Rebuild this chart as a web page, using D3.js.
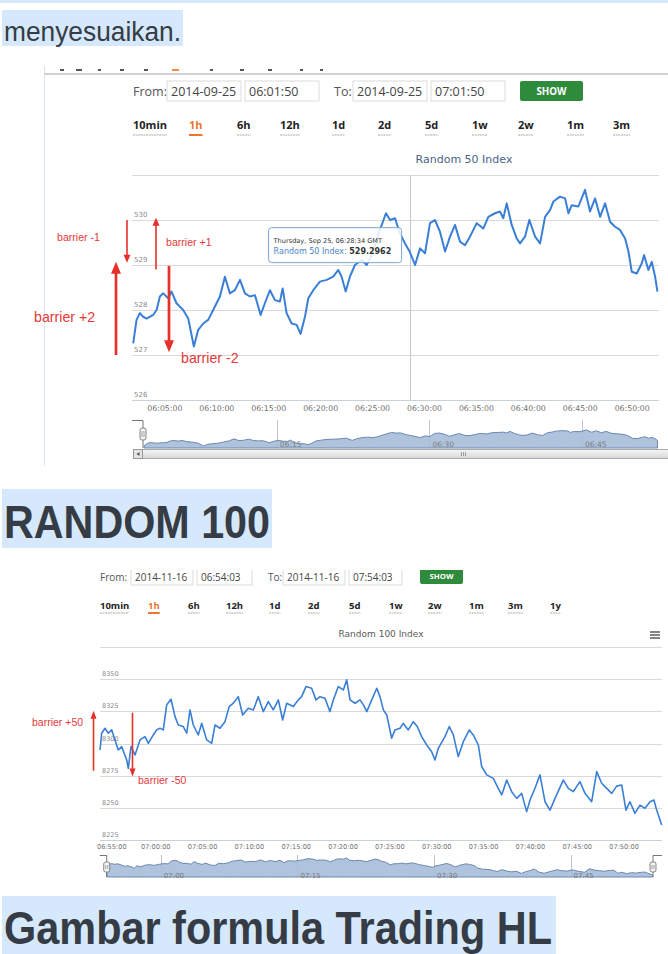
<!DOCTYPE html>
<html>
<head>
<meta charset="utf-8">
<script src="https://cdn.jsdelivr.net/npm/d3@7"></script>
<style>
  body { margin: 0; background: #fff; }
  svg { display: block; }
</style>
</head>
<body>
<div id="page"></div>
<script>
// Random 50 Index, 2014-09-25 (minutes after 06:00)
const r50Minutes = [1.95, 2.27, 2.59, 2.91, 3.24, 3.87, 4.20, 4.52, 4.84, 5.32, 5.64, 6.12, 6.76, 7.25, 7.79, 8.21, 8.69, 9.17, 9.65, 10.30,
  10.78, 11.26, 11.74, 12.23, 12.71, 13.19, 13.67, 14.22, 14.63, 15.12, 15.60, 16.08, 16.34, 16.72, 17.21, 17.69, 18.07, 18.49, 18.81, 19.29,
  19.93, 20.58, 21.21, 21.70, 22.02, 22.41, 22.82, 23.30, 23.95, 24.43, 24.91, 25.71, 26.29, 26.68, 27.16, 27.64, 28.12, 28.57, 29.09, 29.57,
  30.05, 30.53, 31.01, 31.49, 31.98, 32.46, 32.94, 33.42, 33.90, 34.38, 35.03, 35.66, 36.15, 36.79, 37.27, 37.59, 37.92, 38.40, 38.88, 39.20,
  39.68, 40.10, 40.65, 41.13, 41.61, 42.09, 42.41, 43.05, 43.54, 43.86, 44.18, 44.82, 45.46, 45.94, 46.43, 46.91, 47.39, 47.87, 48.35, 48.83,
  49.32, 49.64, 49.96, 50.44, 50.93, 51.15, 51.56, 51.89, 52.21, 52.43];
const r50Values = [527.26, 527.78, 527.93, 527.85, 527.81, 527.89, 528.00, 528.30, 528.37, 528.26, 528.41, 528.15, 528.00, 527.81, 527.19, 527.56, 527.70, 527.78, 528.00, 528.30,
  528.74, 528.37, 528.44, 528.67, 528.37, 528.30, 528.33, 527.89, 528.15, 528.44, 528.22, 528.19, 528.48, 527.93, 527.70, 527.67, 527.47, 527.85, 528.26, 528.44,
  528.63, 528.67, 528.74, 528.89, 528.74, 528.41, 528.74, 529.00, 529.11, 529.00, 529.22, 529.78, 530.15, 530.00, 530.04, 529.70, 529.48, 529.30, 529.00, 529.37,
  529.26, 529.93, 530.00, 529.74, 529.30, 529.63, 529.89, 529.52, 529.44, 529.63, 529.93, 529.81, 530.07, 530.15, 530.19, 530.04, 530.37, 529.89, 529.59, 529.48,
  529.63, 530.00, 529.63, 529.48, 530.07, 530.22, 530.41, 530.52, 530.48, 530.15, 530.33, 530.30, 530.67, 530.19, 530.48, 530.07, 530.37, 529.96, 529.85, 529.78,
  529.59, 529.30, 528.85, 528.81, 529.04, 529.22, 528.89, 529.07, 528.74, 528.41];
const r50YTicks = [526, 527, 528, 529, 530, 531];
const r50XTicks = ["06:05:00", "06:10:00", "06:15:00", "06:20:00", "06:25:00", "06:30:00", "06:35:00", "06:40:00", "06:45:00", "06:50:00"];
const r50NavTicks = ["06:15", "06:30", "06:45"];
const r50Ranges = ["10min", "1h", "6h", "12h", "1d", "2d", "5d", "1w", "2w", "1m", "3m"];
const r50Form = ["2014-09-25", "06:01:50", "2014-09-25", "07:01:50"];
const r50Tip = { time: "06:28:34", value: 529.2962, day: "Thursday, Sep 25" };
// barrier arrows: [from value, to value, label]
const r50Barriers = [[530.0, 529.05, "barrier -1"], [528.9, 530.05, "barrier +1"], [527.0, 529.07, "barrier +2"], [528.98, 527.06, "barrier -2"]];

// Random 100 Index, 2014-11-16 (minutes after 06:54)
const r100Minutes = [0.05, 0.23, 0.58, 0.94, 1.30, 1.65, 2.00, 2.37, 2.90, 3.07, 3.36, 3.79, 4.32, 4.85, 5.21, 5.74, 6.10, 6.46, 6.81, 7.17,
  7.63, 8.06, 8.41, 8.94, 9.31, 9.66, 10.01, 10.54, 10.91, 11.44, 11.97, 12.33, 12.86, 13.39, 13.85, 14.28, 14.81, 15.28, 15.88, 16.42,
  16.95, 17.48, 18.02, 18.55, 19.09, 19.55, 19.98, 20.69, 21.22, 21.58, 22.04, 22.65, 23.11, 23.54, 24.07, 24.60, 24.96, 25.49, 26.03, 26.39,
  26.74, 27.28, 27.81, 28.17, 28.53, 29.06, 29.60, 29.94, 30.30, 30.66, 31.19, 31.54, 32.08, 32.43, 32.96, 33.50, 33.92, 34.39, 34.93, 35.46,
  35.81, 36.17, 36.88, 37.34, 37.77, 38.30, 38.84, 39.48, 39.90, 40.44, 40.80, 41.33, 42.04, 42.57, 42.94, 43.47, 44.00, 44.54, 45.07, 45.60,
  45.96, 46.49, 47.02, 47.56, 48.09, 48.63, 49.51, 50.05, 50.58, 51.29, 51.83, 52.54, 53.08, 53.61, 54.15, 54.68, 55.21, 55.75, 56.20, 56.63,
  57.16, 57.70, 58.23, 58.77, 59.19, 59.48, 60.02];
const r100Values = [8295.1, 8308.1, 8312.0, 8308.1, 8310.7, 8302.9, 8295.1, 8297.7, 8287.4, 8280.9, 8297.7, 8291.3, 8302.9, 8305.5, 8300.3, 8306.8, 8310.7, 8312.0, 8310.7, 8330.1,
  8334.5, 8321.0, 8314.5, 8313.3, 8308.1, 8326.2, 8314.5, 8306.8, 8315.8, 8302.9, 8300.3, 8314.5, 8312.0, 8317.1, 8328.8, 8331.4, 8336.5, 8322.3, 8327.5, 8326.2,
  8336.5, 8324.9, 8332.7, 8326.2, 8334.0, 8318.4, 8331.4, 8328.8, 8334.0, 8336.5, 8344.3, 8343.0, 8334.0, 8336.5, 8335.2, 8324.9, 8333.9, 8344.3, 8341.7, 8349.5,
  8334.0, 8331.4, 8334.0, 8330.1, 8324.9, 8334.0, 8343.0, 8336.5, 8326.2, 8322.3, 8304.2, 8310.7, 8312.0, 8315.8, 8310.7, 8317.1, 8313.3, 8305.5, 8299.0, 8293.8,
  8287.4, 8296.4, 8305.5, 8313.3, 8306.8, 8290.0, 8301.6, 8310.7, 8306.8, 8299.0, 8282.3, 8275.8, 8273.1, 8265.4, 8260.3, 8271.8, 8262.8, 8257.6, 8261.5, 8247.3,
  8256.3, 8265.4, 8275.8, 8255.0, 8248.5, 8257.6, 8271.8, 8265.4, 8262.8, 8270.6, 8261.5, 8255.0, 8278.3, 8269.3, 8265.4, 8261.5, 8267.1, 8268.0, 8248.5, 8255.0,
  8246.0, 8252.4, 8249.9, 8255.0, 8256.3, 8248.5, 8236.9];
const r100YTicks = [8225, 8250, 8275, 8300, 8325, 8350, 8375];
const r100XTicks = ["06:55:00", "07:00:00", "07:05:00", "07:10:00", "07:15:00", "07:20:00", "07:25:00", "07:30:00", "07:35:00", "07:40:00", "07:45:00", "07:50:00"];
const r100NavTicks = ["07:00", "07:15", "07:30", "07:45"];
const r100Ranges = ["10min", "1h", "6h", "12h", "1d", "2d", "5d", "1w", "2w", "1m", "3m", "1y"];
const r100Form = ["2014-11-16", "06:54:03", "2014-11-16", "07:54:03"];
const r100Barriers = [[8279, 8325.5, "barrier +50"], [8324, 8274.5, "barrier -50"]];

const W = 668, H = 954;
const RED = "#e8302a", BLUE = "#3a7fd6";
const chartFont = "'DejaVu Sans', sans-serif";
const siteFont = "'Open Sans', sans-serif";
const pageFont = "'Liberation Sans', Arial, sans-serif";

const parseT = d3.timeParse("%H:%M:%S");
const at = (base, m) => new Date(parseT(base).getTime() + m * 60000);

const svg = d3.select("#page").append("svg").attr("width", W).attr("height", H);
const defs = svg.append("defs");

// ---- page text with highlight ----
function pageText(txt, x, y, size, bold, len, hl) {
  svg.append("rect").attr("x", hl[0]).attr("y", hl[1]).attr("width", hl[2]).attr("height", hl[3]).attr("fill", "#d6e8fb");
  svg.append("text").attr("x", x).attr("y", y).text(txt)
    .attr("font-family", pageFont).attr("font-size", size)
    .attr("font-weight", bold ? "bold" : "normal").attr("fill", "#353c45")
    .attr("textLength", len).attr("lengthAdjust", "spacingAndGlyphs");
}
svg.append("rect").attr("x", 0).attr("y", 0).attr("width", W).attr("height", 3).attr("fill", "#d6e8fb");
pageText("menyesuaikan.", 4, 41, 27, false, 177, [2, 10, 181, 36]);
pageText("RANDOM 100", 4, 538, 46, true, 266, [2, 489, 270, 59]);
pageText("Gambar formula Trading HL", 4, 944, 46, true, 548, [2, 896, 554, 58]);

// ---- helpers ----
function arrow(g, x, y1, y2, w, hw, hl) {
  const dir = Math.sign(y2 - y1);
  g.append("line").attr("x1", x).attr("x2", x).attr("y1", y1).attr("y2", y2 - dir * hl * 0.8)
    .attr("stroke", RED).attr("stroke-width", w);
  g.append("path").attr("d", `M${x - hw},${y2 - dir * hl}L${x + hw},${y2 - dir * hl}L${x},${y2}Z`).attr("fill", RED);
}

function header(g, o) {
  const f = o.font;
  g.append("text").attr("x", o.fromX).attr("y", o.formY).text("From:")
    .attr("font-family", siteFont).attr("font-size", f).attr("fill", "#555");
  o.boxes.forEach((b, i) => {
    g.append("rect").attr("x", b[0]).attr("y", o.boxY).attr("width", b[1]).attr("height", o.boxH)
      .attr("fill", "#fff").attr("stroke", "#dcdcdc");
    g.append("text").attr("x", b[0] + 4).attr("y", o.formY).text(o.form[i])
      .attr("font-family", siteFont).attr("font-size", f).attr("fill", "#444");
  });
  g.append("text").attr("x", o.toX).attr("y", o.formY).text("To:")
    .attr("font-family", siteFont).attr("font-size", f).attr("fill", "#555");
  g.append("rect").attr("x", o.show[0]).attr("y", o.show[1]).attr("width", o.show[2]).attr("height", o.show[3])
    .attr("rx", 2).attr("fill", "#2e8b3b");
  g.append("text").attr("x", o.show[0] + o.show[2] / 2).attr("y", o.showY).attr("text-anchor", "middle")
    .text("SHOW").attr("font-family", siteFont).attr("font-weight", "bold").attr("font-size", f * 0.78).attr("fill", "#fff");

  o.ranges.forEach((r, i) => {
    const t = g.append("text").attr("x", o.rangeX[i]).attr("y", o.rangeY).text(r)
      .attr("font-family", siteFont).attr("font-weight", "bold").attr("font-size", o.rangeFont)
      .attr("fill", r === "1h" ? "#e9772c" : "#222");
    const wdt = t.node().getComputedTextLength();
    g.append("line").attr("x1", o.rangeX[i]).attr("x2", o.rangeX[i] + wdt)
      .attr("y1", o.rangeY + o.ulGap).attr("y2", o.rangeY + o.ulGap)
      .attr("stroke", r === "1h" ? "#e9772c" : "#c8c8c8")
      .attr("stroke-width", r === "1h" ? 2 : 1.3)
      .attr("stroke-dasharray", r === "1h" ? null : "2,0.6");
  });
}

function chart(g, o) {
  const x = d3.scaleTime().domain(o.xDomain).range(o.xRange);
  const y = d3.scaleLinear().domain(o.yDomain).range(o.yRange);
  const pts = o.minutes.map((m, i) => ({ t: at(o.base, m), v: o.values[i] }));

  g.append("text").attr("x", o.titleX).attr("y", o.titleY).attr("text-anchor", "middle").text(o.title)
    .attr("font-family", chartFont).attr("font-size", o.titleSize).attr("fill", o.titleColor);

  // grid
  g.selectAll(".grid").data(o.yTicks).join("line")
    .attr("x1", o.xRange[0]).attr("x2", o.xRange[1])
    .attr("y1", d => Math.round(y(d)) + 0.5).attr("y2", d => Math.round(y(d)) + 0.5)
    .attr("stroke", (d, i) => i === 0 ? "#c8d0d8" : "#d9d9d9").attr("stroke-width", 1);
  g.selectAll(".ylab").data(o.yTicks.slice(0, -1)).join("text")
    .attr("x", o.xRange[0] + 2).attr("y", d => y(d) - 3).text(d => d)
    .attr("font-family", chartFont).attr("font-size", o.yFont).attr("fill", "#8a8a8a");

  // x axis labels
  const xl = g.selectAll(".xlab").data(o.xTicks).join("text")
    .attr("y", o.xLabY).text(d => d)
    .attr("font-family", chartFont).attr("font-size", o.xFont).attr("fill", "#707070")
    .attr("text-anchor", "middle")
    .attr("x", d => x(parseT(d)));
  xl.each(function () {
    const n = this, b = n.getBBox();
    if (b.x < o.xRange[0] - 3) d3.select(n).attr("x", +d3.select(n).attr("x") + (o.xRange[0] - 3 - b.x));
  });

  if (o.crosshair) {
    const cx = Math.round(x(parseT(o.crosshair))) + 0.5;
    g.append("line").attr("x1", cx).attr("x2", cx).attr("y1", o.yRange[1]).attr("y2", o.yRange[0])
      .attr("stroke", "#c8c8c8");
  }

  g.append("path").datum(pts)
    .attr("d", d3.line().x(d => x(d.t)).y(d => y(d.v)))
    .attr("fill", "none").attr("stroke", BLUE).attr("stroke-width", o.lineW).attr("stroke-linejoin", "round");

  // navigator
  const nx = d3.scaleTime().domain(o.xDomain).range(o.navX);
  const ny = d3.scaleLinear().domain(d3.extent(o.values)).range(o.navY);
  g.selectAll(".navgrid").data(o.navTicks).join("line")
    .attr("x1", d => Math.round(nx(parseT(d + ":00"))) + 0.5).attr("x2", d => Math.round(nx(parseT(d + ":00"))) + 0.5)
    .attr("y1", o.navTop).attr("y2", o.navBottom).attr("stroke", "#c4c4c4");
  g.append("path").datum(pts)
    .attr("d", d3.area().x(d => nx(d.t)).y0(o.navBottom).y1(d => ny(d.v)))
    .attr("fill", "#a6bcd9").attr("fill-opacity", 0.9)
    .attr("stroke", "#6b87b0").attr("stroke-width", 1);
  g.selectAll(".navlab").data(o.navTicks).join("text")
    .attr("x", d => nx(parseT(d + ":00")) + 3).attr("y", o.navLabY).text(d => d)
    .attr("font-family", chartFont).attr("font-size", o.navFont).attr("fill", "#7a7a7a");
  // handles
  o.handles.forEach(hd => {
    const hx = nx(hd.at === 0 ? o.xDomain[0] : o.xDomain[1]);
    g.append("path").attr("d", `M${hx + hd.dx},${o.navTop + 0.5}H${hx}V${o.navBottom}`)
      .attr("fill", "none").attr("stroke", "#777").attr("stroke-width", 1);
    g.append("rect").attr("x", hx - 3).attr("y", o.handleY).attr("width", 6).attr("height", o.handleH)
      .attr("rx", 2).attr("fill", "#f2f2f2").attr("stroke", "#888");
    [-1, 1].forEach(s => g.append("line").attr("x1", hx + s).attr("x2", hx + s)
      .attr("y1", o.handleY + 3).attr("y2", o.handleY + o.handleH - 3).attr("stroke", "#888").attr("stroke-width", 0.7));
  });
  return { x, y };
}

// ================= Random 50 screenshot =================
defs.append("clipPath").attr("id", "clipTop").append("rect").attr("x", 44).attr("y", 66).attr("width", 624).attr("height", 400);
const topG = svg.append("g").attr("clip-path", "url(#clipTop)");
topG.append("line").attr("x1", 44.5).attr("x2", 44.5).attr("y1", 66).attr("y2", 466).attr("stroke", "#d9e3ec");
topG.append("rect").attr("x", 44).attr("y", 73).attr("width", 624).attr("height", 2).attr("fill", "#d2d2d2");
[[60, 4], [76, 6], [98, 3], [120, 4], [144, 4], [172, 7], [210, 3], [240, 4], [268, 4], [300, 3], [320, 3]].forEach((f, i) =>
  topG.append("rect").attr("x", f[0]).attr("y", 69).attr("width", f[1]).attr("height", 2)
    .attr("fill", i === 5 ? "#f08a4b" : "#555"));

header(topG, {
  font: 12.5, fromX: 133, toX: 334, formY: 96, boxY: 81, boxH: 20,
  boxes: [[167, 74], [245, 74], [353, 74], [431, 74]], form: r50Form,
  show: [520, 81, 63, 20], showY: 95,
  ranges: r50Ranges, rangeX: [133, 189, 237, 280, 332, 378, 425, 472, 518, 567, 613], rangeY: 129, rangeFont: 11, ulGap: 6
});

const c1 = chart(topG, {
  base: "06:00:00", minutes: r50Minutes, values: r50Values,
  xDomain: [parseT("06:01:50"), parseT("06:52:35")], xRange: [132, 659],
  yDomain: [526, 531], yRange: [400, 175], yTicks: r50YTicks,
  title: "Random 50 Index", titleX: 464, titleY: 163, titleSize: 11, titleColor: "#4a6388",
  yFont: 7, xTicks: r50XTicks, xLabY: 411, xFont: 7.8, crosshair: r50Tip.time, lineW: 2,
  navX: [143, 659], navY: [446, 430], navTop: 420, navBottom: 448, navTicks: r50NavTicks, navLabY: 447, navFont: 7.5,
  handles: [{ at: 0, dx: -11 }], handleY: 428, handleH: 12
});

// tooltip
{
  const px = c1.x(parseT(r50Tip.time)), py = c1.y(r50Tip.value);
  const bx = px - 141, by = py - 24;
  topG.append("rect").attr("x", bx).attr("y", by).attr("width", 133).attr("height", 35).attr("rx", 3)
    .attr("fill", "#fff").attr("fill-opacity", 0.85).attr("stroke", "#7aa6d6").attr("stroke-width", 1);
  topG.append("text").attr("x", bx + 5).attr("y", by + 15).text(`${r50Tip.day}, ${r50Tip.time} GMT`)
    .attr("font-family", chartFont).attr("font-size", 6.6).attr("fill", "#333");
  const t = topG.append("text").attr("x", bx + 5).attr("y", by + 26.5)
    .attr("font-family", chartFont).attr("font-size", 8);
  t.append("tspan").text("Random 50 Index: ").attr("fill", "#4c84c8");
  t.append("tspan").text(r50Tip.value.toFixed(4)).attr("font-weight", "bold").attr("fill", "#333");
}

// scrollbar
{
  const sg = topG.append("g");
  const grad = defs.append("linearGradient").attr("id", "sb").attr("x1", 0).attr("x2", 0).attr("y1", 0).attr("y2", 1);
  grad.append("stop").attr("offset", 0).attr("stop-color", "#f6f6f6");
  grad.append("stop").attr("offset", 1).attr("stop-color", "#d8d8d8");
  sg.append("rect").attr("x", 142.5).attr("y", 449.5).attr("width", 530).attr("height", 9).attr("fill", "url(#sb)").attr("stroke", "#aaa");
  sg.append("rect").attr("x", 133.5).attr("y", 449.5).attr("width", 9).attr("height", 9).attr("fill", "#e4e4e4").attr("stroke", "#999");
  sg.append("path").attr("d", "M136.5,454L139.5,452V456Z").attr("fill", "#555");
  [-2, 0, 2].forEach(d => sg.append("line").attr("x1", 463 + d + 0.5).attr("x2", 463 + d + 0.5)
    .attr("y1", 452).attr("y2", 456).attr("stroke", "#888").attr("stroke-width", 0.8));
}

// barrier annotations (top)
{
  const ag = svg.append("g");
  const xs = [127, 156, 116, 169], ws = [1.6, 1.6, 2.7, 2.7], hws = [3.5, 3.5, 5, 5], hls = [8, 8, 12, 12];
  r50Barriers.forEach((b, i) => arrow(ag, xs[i], c1.y(b[0]), c1.y(b[1]), ws[i], hws[i], hls[i]));
  const labs = [[57, 241, 10.6], [166, 246, 10.6], [34, 322, 14.2], [181, 363, 14.2]];
  r50Barriers.forEach((b, i) => ag.append("text").attr("x", labs[i][0]).attr("y", labs[i][1]).text(b[2])
    .attr("font-family", pageFont).attr("font-size", labs[i][2]).attr("fill", "#e5393a"));
}

// ================= Random 100 screenshot =================
defs.append("clipPath").attr("id", "clipBot").append("rect").attr("x", 92).attr("y", 570).attr("width", 576).attr("height", 308);
const botG = svg.append("g").attr("clip-path", "url(#clipBot)");

header(botG, {
  font: 10, fromX: 100, toX: 268, formY: 581, boxY: 569, boxH: 16,
  boxes: [[131, 62], [197, 55], [283, 62], [349, 53]], form: r100Form,
  show: [420, 562, 43, 22], showY: 579,
  ranges: r100Ranges, rangeX: [100, 148, 188, 226, 269, 308, 349, 389, 428, 469, 508, 550], rangeY: 609, rangeFont: 9.5, ulGap: 4
});

const c2 = chart(botG, {
  base: "06:54:00", minutes: r100Minutes, values: r100Values,
  xDomain: [parseT("06:54:03"), parseT("07:54:03")], xRange: [100, 662],
  yDomain: [8225, 8375], yRange: [840.4, 647], yTicks: r100YTicks,
  title: "Random 100 Index", titleX: 381, titleY: 637, titleSize: 9, titleColor: "#5a5a5a",
  yFont: 6.5, xTicks: r100XTicks, xLabY: 849, xFont: 6.6, crosshair: null, lineW: 1.6,
  navX: [106.7, 653], navY: [875, 858], navTop: 855, navBottom: 877, navTicks: r100NavTicks, navLabY: 878, navFont: 7,
  handles: [{ at: 0, dx: -7 }, { at: 1, dx: 9 }], handleY: 862, handleH: 10
});

// hamburger menu
[632, 635, 638].forEach(yy => botG.append("line").attr("x1", 650).attr("x2", 660).attr("y1", yy).attr("y2", yy)
  .attr("stroke", "#666").attr("stroke-width", 1.6));

// barrier annotations (bottom)
{
  const ag = svg.append("g");
  const xs = [93.5, 132.5];
  r100Barriers.forEach((b, i) => arrow(ag, xs[i], c2.y(b[0]), c2.y(b[1]), 1.6, 3, 8));
  const labs = [[32, 726], [138, 784]];
  r100Barriers.forEach((b, i) => ag.append("text").attr("x", labs[i][0]).attr("y", labs[i][1]).text(b[2])
    .attr("font-family", pageFont).attr("font-size", 10.5).attr("fill", "#e5393a"));
}
</script>
</body>
</html>
